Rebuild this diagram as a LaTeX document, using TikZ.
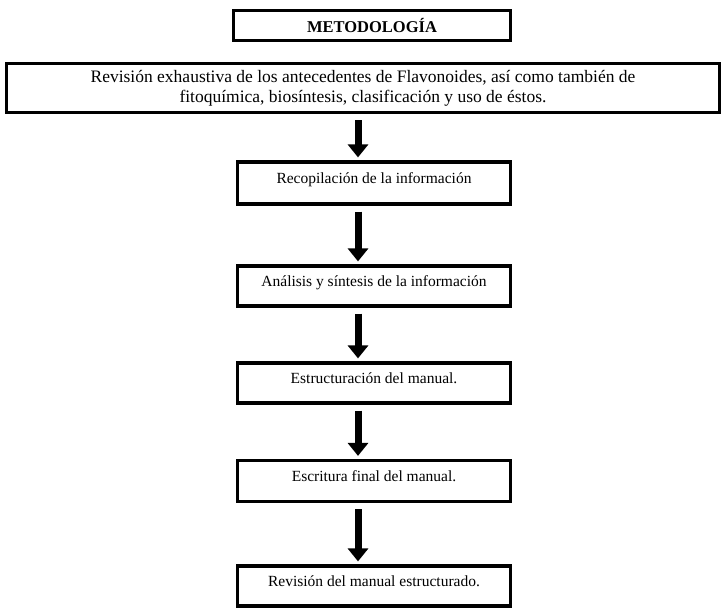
\documentclass[tikz,border=0pt]{standalone}
\usepackage{fontspec}
\setmainfont{Liberation Serif}
\usetikzlibrary{arrows.meta}
\begin{document}
\begin{tikzpicture}[x=1pt,y=-1pt,
  box/.style={draw=black, line width=3.2pt, rectangle, inner sep=0pt, align=center,
    font=\fontsize{15.5}{18}\selectfont},
  stepbox/.style={box, minimum width=273pt, minimum height=40pt, text depth=10pt},
  flow/.style={line width=7pt, -{Triangle[width=20pt,length=13pt]}, shorten <=6pt, shorten >=3pt}]
\useasboundingbox (0,0) rectangle (725,612);
\fill[white] (0,0) rectangle (725,612);
\coordinate (ax) at (358,0);
\node[box, minimum width=277pt, minimum height=30pt, font=\fontsize{16.5}{19}\selectfont\bfseries] (t) at (372,25.5) {METODOLOGÍA};
\node[box, minimum width=713pt, minimum height=49pt, font=\fontsize{17.5}{20}\selectfont] (b1) at (363,88) {Revisión exhaustiva de los antecedentes de Flavonoides, así como también de\\fitoquímica, biosíntesis, clasificación y uso de éstos.};
\node[stepbox, minimum height=42pt] (b2) at (374,183) {Recopilación de la información};
\node[stepbox] (b3) at (374,286) {Análisis y síntesis de la información};
\node[stepbox] (b4) at (374,383) {Estructuración del manual.};
\node[stepbox, minimum height=41pt] (b5) at (374,481) {Escritura final del manual.};
\node[stepbox] (b6) at (374,586) {Revisión del manual estructurado.};
\draw[flow] (b1.south -| ax) -- (b2.north -| ax);
\draw[flow] (b2.south -| ax) -- (b3.north -| ax);
\draw[flow] (b3.south -| ax) -- (b4.north -| ax);
\draw[flow] (b4.south -| ax) -- (b5.north -| ax);
\draw[flow] (b5.south -| ax) -- (b6.north -| ax);
\end{tikzpicture}
\end{document}
